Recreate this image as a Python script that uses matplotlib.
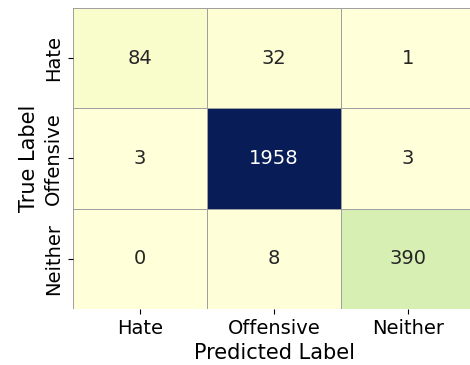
import matplotlib
matplotlib.use("Agg")
import matplotlib.pyplot as plt
import numpy as np
import seaborn as sns

classes = ["Hate", "Offensive", "Neither"]
row_hate = [84, 32, 1]
row_offensive = [3, 1958, 3]
row_neither = [0, 8, 390]

cm = np.array([row_hate, row_offensive, row_neither])

fig = plt.figure(figsize=(4.7, 3.65), dpi=100)
ax = fig.add_axes([73 / 470, 1 - 309 / 365, 402 / 470, 301 / 365])

sns.heatmap(cm, annot=True, fmt="d", cmap="YlGnBu", cbar=False,
            linewidths=0.7, linecolor="#a0a0a0",
            xticklabels=classes, yticklabels=classes,
            annot_kws={"fontsize": 14}, ax=ax)

ax.set_xlabel("Predicted Label", fontsize=15)
ax.set_ylabel("True Label", fontsize=15)
ax.tick_params(axis="both", labelsize=14)
plt.setp(ax.get_yticklabels(), rotation=90, va="center")

fig.savefig("out.png", dpi=100)
